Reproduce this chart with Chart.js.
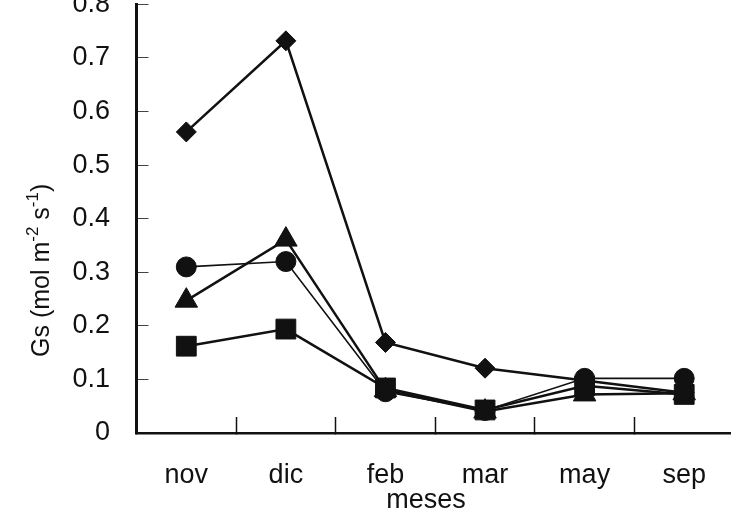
<!DOCTYPE html>
<html>
<head>
<meta charset="utf-8">
<script src="https://cdn.jsdelivr.net/npm/chart.js@4/dist/chart.umd.min.js"></script>
<style>
  html, body { margin: 0; padding: 0; background: #fff; overflow: hidden; width: 731px; height: 518px; }
  #wrap { position: absolute; left: 0; top: -30px; width: 749px; height: 548px; }
</style>
</head>
<body>
<div id="wrap"><canvas id="c" width="749" height="548"></canvas></div>
<script>
// Stomatal conductance (Gs) by month, four treatments
const months     = ['nov', 'dic', 'feb', 'mar', 'may', 'sep'];
const gsDiamond  = [0.562, 0.732, 0.169, 0.121, 0.098, 0.075];
const gsCircle   = [0.310, 0.320, 0.077, 0.042, 0.102, 0.102];
const gsTriangle = [0.247, 0.361, 0.080, 0.040, 0.072, 0.074];
const gsSquare   = [0.162, 0.194, 0.084, 0.043, 0.088, 0.072];
const yTickValues = [0, 0.1, 0.2, 0.3, 0.4, 0.5, 0.6, 0.7, 0.8];
const yTitleParts = [
  { text: 'Gs (mol m', sup: false },
  { text: '-2', sup: true },
  { text: ' s', sup: false },
  { text: '-1', sup: true },
  { text: ')', sup: false }
];
const xTitle = 'meses';

const ink = '#111';
const FONT = '"Liberation Sans", Arial, Helvetica, sans-serif';

function series(label, data, style, radius, width) {
  return {
    label, data,
    pointStyle: style,
    pointRadius: radius,
    pointHoverRadius: radius,
    pointBorderWidth: 1,
    pointBackgroundColor: ink,
    pointBorderColor: ink,
    borderColor: ink,
    backgroundColor: ink,
    borderWidth: width,
    tension: 0,
    fill: false
  };
}

// Rotated axis title with superscripts, and the x axis title
const axisTitles = {
  id: 'axisTitles',
  afterDraw(chart) {
    const ctx = chart.ctx;
    ctx.save();
    ctx.fillStyle = ink;
    ctx.textBaseline = 'alphabetic';
    ctx.textAlign = 'left';
    ctx.translate(49, 387);
    ctx.rotate(-Math.PI / 2);
    let x = 0;
    for (const p of yTitleParts) {
      ctx.font = (p.sup ? '17px ' : '25px ') + FONT;
      ctx.fillText(p.text, x, p.sup ? -11 : 0);
      x += ctx.measureText(p.text).width;
    }
    ctx.restore();

    ctx.save();
    ctx.fillStyle = ink;
    ctx.font = '27px ' + FONT;
    ctx.textAlign = 'center';
    ctx.textBaseline = 'alphabetic';
    ctx.fillText(xTitle, 426, 538);
    ctx.restore();
  }
};

new Chart(document.getElementById('c'), {
  type: 'line',
  data: {
    labels: months,
    datasets: [
      series('diamond', gsDiamond, 'rectRot', 10, 2.5),
      series('circle', gsCircle, 'circle', 10, 1.6),
      series('triangle', gsTriangle, 'triangle', 13, 2.5),
      series('square', gsSquare, 'rect', 14, 2.5)
    ]
  },
  options: {
    responsive: false,
    animation: false,
    events: [],
    layout: { padding: { top: 34.4, right: 0, bottom: 0, left: 0 } },
    plugins: { legend: { display: false }, tooltip: { enabled: false } },
    scales: {
      x: {
        type: 'category',
        offset: true,
        grid: { offset: true, drawOnChartArea: false, drawTicks: true, tickLength: -16, tickWidth: 1.5, tickColor: ink },
        border: { color: ink, width: 2.5 },
        ticks: { color: ink, font: { family: FONT, size: 27 }, padding: 42, maxRotation: 0, autoSkip: false },
        afterFit(s) { s.height = 85; s.paddingLeft = 0; s.paddingRight = 0; }
      },
      y: {
        min: 0,
        max: 0.8,
        afterBuildTicks(s) { s.ticks = yTickValues.map(v => ({ value: v })); },
        grid: { drawOnChartArea: false, drawTicks: true, tickLength: -12, tickWidth: 1, tickColor: '#444' },
        border: { color: ink, width: 3 },
        ticks: { color: ink, font: { family: FONT, size: 27 }, padding: 38.5 },
        afterFit(s) { s.width = 136.5; s.paddingTop = 0; s.paddingBottom = 0; }
      }
    }
  },
  plugins: [axisTitles]
});
</script>
</body>
</html>
